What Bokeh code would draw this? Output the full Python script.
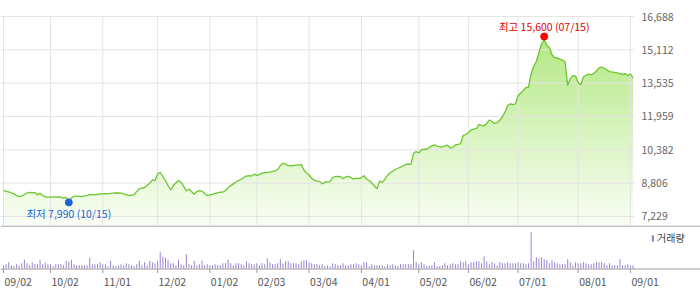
import numpy as np
from bokeh.plotting import figure
from bokeh.layouts import column
from bokeh.models import (Range1d, FixedTicker, Span, Legend, LegendItem)
from bokeh.core.properties import value
from bokeh.embed import file_html
from bokeh.resources import INLINE

# ---------------- data ----------------
PRICE = [
    8460, 8420, 8390, 8340, 8300, 8220, 8170, 8200, 8270, 8340,
    8370, 8350, 8360, 8250, 8330, 8210, 8170, 8140, 8140, 8160,
    8160, 8150, 8140, 8100, 8130, 7990, 8100, 8190, 8190, 8180,
    8170, 8200, 8220, 8270, 8260, 8250, 8280, 8300, 8300, 8310,
    8300, 8320, 8330, 8340, 8350, 8330, 8300, 8260, 8220, 8240,
    8260, 8410, 8540, 8570, 8600, 8690, 8810, 8960, 8930, 9240,
    9320, 9120, 8930, 8690, 8480, 8690, 8810, 8930, 8840, 8650,
    8430, 8530, 8410, 8280, 8410, 8450, 8420, 8320, 8220, 8250,
    8270, 8320, 8350, 8380, 8380, 8460, 8590, 8690, 8770, 8860,
    8930, 8990, 9070, 9140, 9160, 9140, 9230, 9170, 9220, 9280,
    9300, 9310, 9330, 9360, 9390, 9450, 9640, 9750, 9710, 9630,
    9620, 9640, 9660, 9670, 9680, 9430, 9290, 9190, 9030, 8950,
    8900, 8890, 8770, 8850, 8870, 8880, 9070, 9120, 9120, 9110,
    9010, 9100, 9130, 9070, 8990, 9040, 9020, 9070, 9160, 8990,
    8930, 8810, 8670, 8540, 8900, 8840, 8980, 9180, 9290, 9370,
    9450, 9510, 9560, 9630, 9690, 9710, 9690, 10220, 10300, 10240,
    10380, 10420, 10400, 10490, 10570, 10620, 10560, 10530, 10510, 10570,
    10600, 10470, 10500, 10620, 10640, 10680, 11060, 11110, 11200, 11320,
    11360, 11380, 11580, 11540, 11520, 11630, 11790, 11720, 11630, 11670,
    11780, 11940, 12170, 12480, 12560, 12520, 12550, 12940, 13070, 13190,
    13330, 13350, 13970, 14330, 14560, 14990, 15400, 15600, 15320, 15220,
    14870, 14750, 14720, 14670, 14630, 14540, 13420, 13760, 13890, 13870,
    13570, 13460, 13830, 13910, 13970, 13920, 13990, 14110, 14250, 14300,
    14240, 14160, 14080, 14060, 14040, 14020, 13980, 13950, 13980, 13900,
    13980, 13780,
]

VOLUME = [
    10, 13, 19, 10, 7, 13, 9, 16, 26, 16,
    10, 19, 14, 13, 26, 13, 17, 13, 13, 7,
    13, 13, 13, 10, 23, 20, 26, 13, 10, 10,
    10, 10, 10, 32, 13, 13, 13, 19, 13, 13,
    7, 23, 10, 7, 10, 13, 10, 16, 13, 10,
    7, 13, 23, 10, 19, 10, 23, 19, 16, 23,
    49, 35, 32, 26, 16, 16, 10, 26, 13, 10,
    43, 13, 10, 23, 10, 13, 23, 10, 13, 10,
    10, 13, 10, 10, 16, 16, 26, 16, 10, 16,
    16, 13, 10, 22, 16, 13, 13, 16, 10, 16,
    13, 31, 19, 13, 13, 16, 28, 16, 22, 22,
    16, 16, 16, 13, 22, 25, 25, 19, 16, 13,
    13, 10, 13, 7, 10, 7, 16, 13, 10, 10,
    16, 10, 10, 13, 13, 16, 13, 10, 19, 19,
    7, 13, 10, 10, 10, 10, 7, 13, 10, 13,
    10, 7, 13, 13, 13, 13, 13, 55, 19, 13,
    19, 13, 7, 10, 10, 19, 7, 7, 10, 16,
    10, 13, 16, 13, 13, 22, 19, 22, 13, 19,
    19, 22, 22, 16, 37, 22, 13, 19, 16, 10,
    19, 16, 16, 19, 16, 16, 16, 19, 16, 16,
    13, 16, 109, 22, 34, 31, 34, 28, 25, 16,
    25, 19, 16, 13, 13, 13, 28, 19, 10, 19,
    16, 16, 19, 16, 13, 13, 16, 19, 19, 19,
    16, 10, 16, 10, 10, 10, 28, 10, 10, 13,
    10, 10,
]

MONTH_LABELS = ["09/02", "10/02", "11/01", "12/02", "01/02", "02/03", "03/04",
                "04/01", "05/02", "06/02", "07/01", "08/01", "09/01"]
MONTH_IDX = [0, 18, 38, 59, 79, 97, 117, 137, 159, 178, 197, 220, 240]
Y_TICKS = [7229, 8806, 10382, 11959, 13535, 15112, 16688]
HIGH_DATE = "07/15"
LOW_DATE = "10/15"
VOLUME_LABEL = "거래량"

# ---------------- layout constants ----------------
W = 700
X0 = 3.0          # px of first trading day
DX = 2.612        # px per trading day
PLOT_RIGHT = 634  # px where the price area ends
LABEL_X = 641     # px where the price labels start
TOP = 16
PRICE_H = 209
PX_VAL = 47.3     # price units per px
Y_TOP = Y_TICKS[-1]
Y_MIN = Y_TOP - PRICE_H * PX_VAL
Y_MAX = Y_TOP + TOP * PX_VAL

FONT = value("Noto Sans CJK KR")
LINE_C = "#6cc72f"
GRID_C = "#e4e4e4"
VOL_C = "#9a82cf"


def px_to_idx(px):
    return (px - X0) / DX


xr = Range1d(px_to_idx(0), px_to_idx(W))
x = np.arange(len(PRICE))
price = np.array(PRICE, dtype=float)

p = figure(width=W, height=TOP + PRICE_H, x_range=xr, y_range=Range1d(Y_MIN, Y_MAX),
           x_axis_location=None, y_axis_location=None,
           toolbar_location=None, output_backend="svg",
           min_border_left=0, min_border_right=0, min_border_top=0, min_border_bottom=0,
           outline_line_color=None, background_fill_color="white", border_fill_color="white")
p.grid.visible = False

# vertical gradient fill under the line
n_b = 60
levels = np.linspace(Y_MIN, Y_TOP, n_b + 1)
c_bot = np.array([250, 254, 246])
c_top = np.array([172, 230, 120])
for k in range(n_b):
    t = (k + 0.5) / n_b
    c = c_bot + (c_top - c_bot) * t
    col = "#%02x%02x%02x" % tuple(int(round(vv)) for vv in c)
    p.varea(x=x, y1=np.minimum(price, levels[k]), y2=price,
            fill_color=col, fill_alpha=1.0, level="image")

# grid lines (limited to the price area)
nt = len(Y_TICKS)
p.segment(x0=[px_to_idx(0)] * nt, x1=[px_to_idx(PLOT_RIGHT)] * nt, y0=Y_TICKS, y1=Y_TICKS,
          line_color=GRID_C, line_width=1, level="underlay")
nm = len(MONTH_IDX)
p.segment(x0=MONTH_IDX, x1=MONTH_IDX, y0=[Y_MIN] * nm, y1=[Y_TOP] * nm,
          line_color=GRID_C, line_width=1, level="underlay")

# right-hand price tick labels
p.text([px_to_idx(LABEL_X)] * nt, Y_TICKS, text=[f"{t:,}" for t in Y_TICKS],
       text_align="left", text_baseline="middle",
       text_font=FONT, text_font_size="10.5px", text_color="#666666")

p.line(x, price, line_color=LINE_C, line_width=1.3)

i_max = int(np.argmax(price))
i_min = int(np.argmin(price))
p.scatter([i_max], [price[i_max] + 3 * PX_VAL], size=7, color="#ff0000")
p.scatter([i_min], [price[i_min] - 2 * PX_VAL], size=7, color="#1a62d6")
p.text([i_max], [price[i_max]], text=[f"최고 {int(price[i_max]):,} ({HIGH_DATE})"],
       y_offset=-13, text_align="center", text_baseline="middle",
       text_font=FONT, text_font_size="10.5px", text_color="#e60000")
p.text([i_min], [price[i_min]], text=[f"최저 {int(price[i_min]):,} ({LOW_DATE})"],
       y_offset=13, text_align="center", text_baseline="middle",
       text_font=FONT, text_font_size="10.5px", text_color="#1a62d6")

# ---------------- volume panel ----------------
VH = 64
v = figure(width=W, height=VH, x_range=xr, y_range=Range1d(-63, 129),
           x_axis_location=None, y_axis_location=None,
           toolbar_location=None, output_backend="svg",
           min_border_left=0, min_border_right=0, min_border_top=0, min_border_bottom=0,
           outline_line_color=None,
           background_fill_color="white", border_fill_color="white")
v.grid.visible = False
bars = v.vbar(x=x, top=VOLUME, bottom=0, width=1.0 / DX, fill_color=VOL_C, line_color=None)
v.add_layout(Span(location=127.5, dimension="width", line_color="#8a8a8a", line_width=1))
v.add_layout(Span(location=-1.5, dimension="width", line_color="#9a9a9a", line_width=1))
v.segment(x0=MONTH_IDX, y0=[-1.5] * nm, x1=MONTH_IDX, y1=[-13.5] * nm,
          line_color="#9a9a9a", line_width=1)
v.text(MONTH_IDX, [-39] * nm, text=MONTH_LABELS, x_offset=1,
       text_align="left", text_baseline="middle",
       text_font=FONT, text_font_size="10.5px", text_color="#555555")

legend = Legend(items=[LegendItem(label=VOLUME_LABEL, renderers=[bars])],
                location=(651, 44), orientation="vertical",
                glyph_width=3, glyph_height=8, label_height=8, label_standoff=3,
                padding=0, margin=0, spacing=0,
                label_text_font="Noto Sans CJK KR", label_text_font_size="10px",
                label_text_color="#444444",
                border_line_color=None, background_fill_alpha=0)
v.add_layout(legend)

layout = column(p, v, spacing=0)
with open("out.html", "w", encoding="utf-8") as f:
    f.write(file_html(layout, INLINE))
